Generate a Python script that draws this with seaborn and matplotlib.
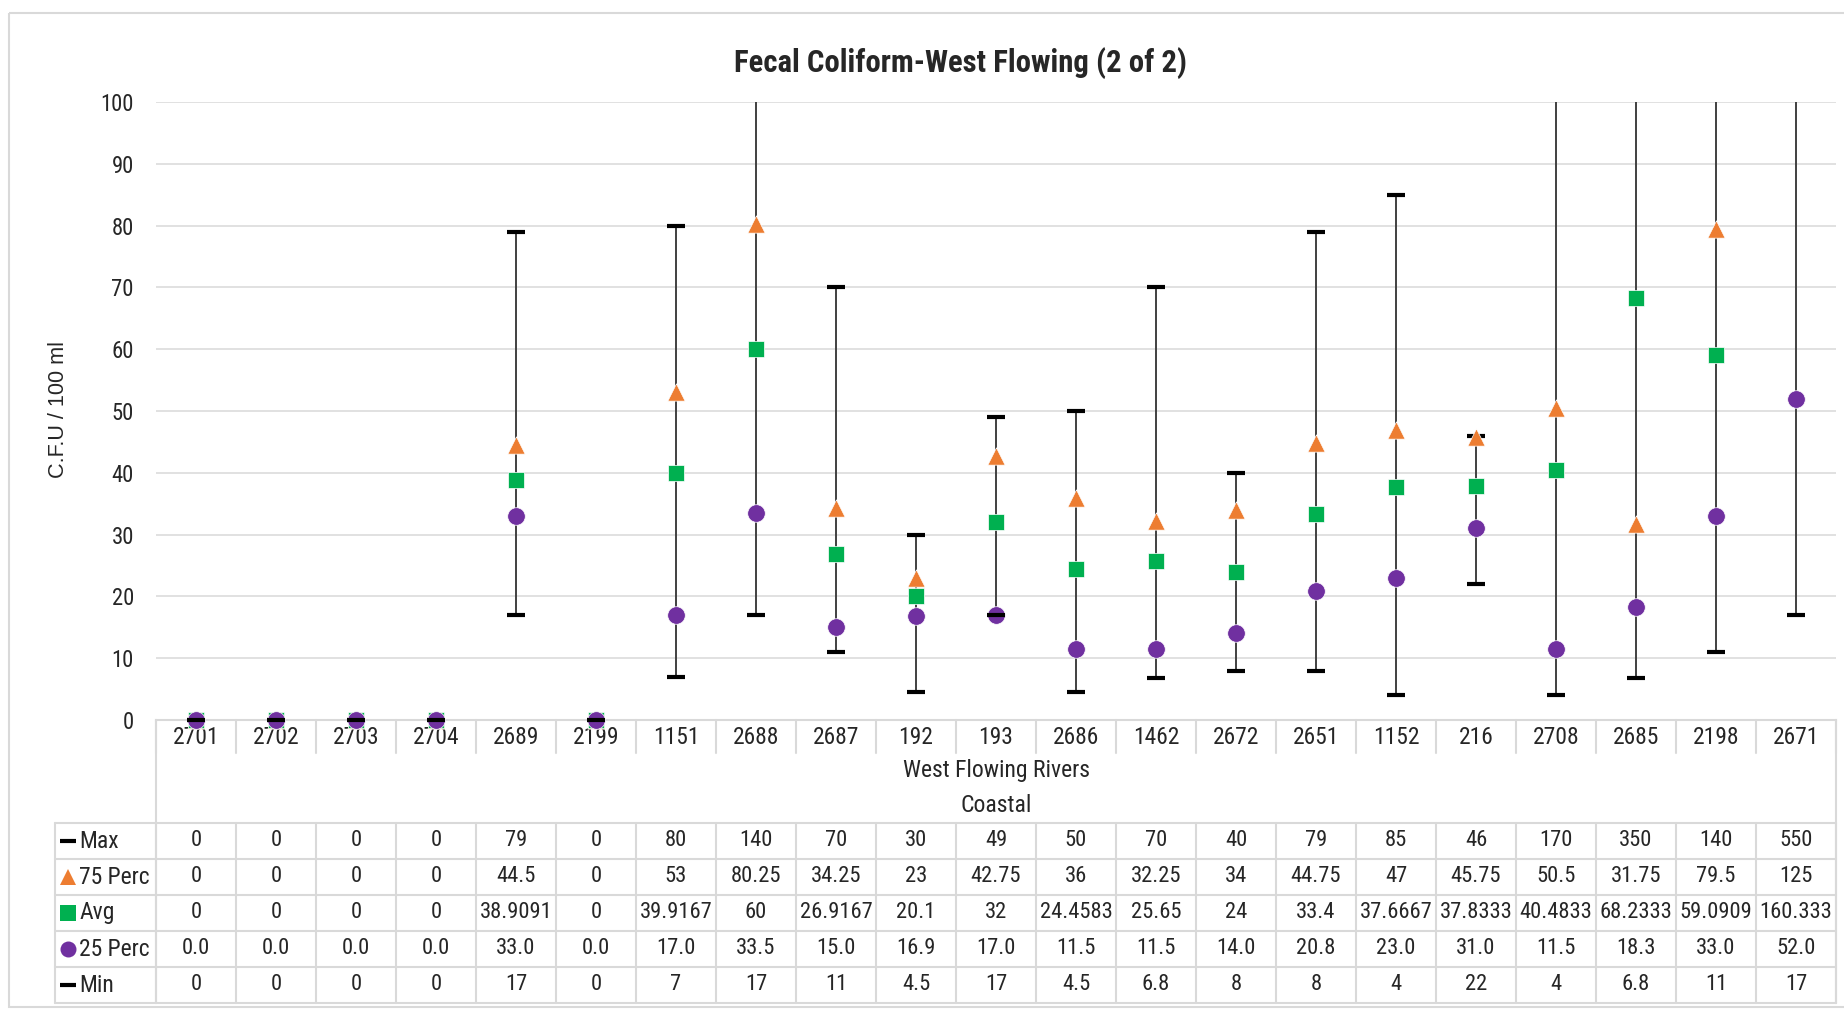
import numpy as np
import seaborn as sns
import matplotlib
matplotlib.use("Agg")
import matplotlib.pyplot as plt
from matplotlib import font_manager
from matplotlib.patches import Rectangle

# ---- data --------------------------------------------------------------
sites = ["2701", "2702", "2703", "2704", "2689", "2199", "1151", "2688", "2687", "192", "193",
         "2686", "1462", "2672", "2651", "1152", "216", "2708", "2685", "2198", "2671"]
max_v = [0, 0, 0, 0, 79, 0, 80, 140, 70, 30, 49, 50, 70, 40, 79, 85, 46, 170, 350, 140, 550]
p75 = [0, 0, 0, 0, 44.5, 0, 53, 80.25, 34.25, 23, 42.75, 36, 32.25, 34, 44.75, 47, 45.75,
       50.5, 31.75, 79.5, 125]
avg = [0, 0, 0, 0, 38.9091, 0, 39.9167, 60, 26.9167, 20.1, 32, 24.4583, 25.65, 24, 33.4,
       37.6667, 37.8333, 40.4833, 68.2333, 59.0909, 160.333]
p25 = [0.0, 0.0, 0.0, 0.0, 33.0, 0.0, 17.0, 33.5, 15.0, 16.9, 17.0, 11.5, 11.5, 14.0, 20.8,
       23.0, 31.0, 11.5, 18.3, 33.0, 52.0]
min_v = [0, 0, 0, 0, 17, 0, 7, 17, 11, 4.5, 17, 4.5, 6.8, 8, 8, 4, 22, 4, 6.8, 11, 17]

ORANGE, GREEN, PURPLE = "#ED7D31", "#00B050", "#7030A0"
GRID = "#d9d9d9"
YMAX = 100

sns.set_theme(style="white")

# ---- fonts: a narrow sans like the original Arial Narrow ---------------
_fonts = {}
for f in font_manager.fontManager.ttflist:
    _fonts.setdefault(f.name, []).append(f)


def has(name, bold=False):
    for f in _fonts.get(name, []):
        w = f.weight if isinstance(f.weight, int) else {"bold": 700}.get(str(f.weight), 400)
        if f.style == "normal" and (w >= 700 if bold else w == 400):
            return True
    return False


NARROW = next((n for n in ["Liberation Sans Narrow", "Arial Narrow", "Roboto Condensed",
                           "Archivo Narrow", "PT Sans Narrow", "Fira Sans Condensed"]
               if has(n)), "Liberation Sans")
BOLDF = next((n for n in ["Liberation Sans Narrow", "Arial Narrow", "Roboto Condensed",
                          "PT Sans Narrow", "Fira Sans Condensed"]
              if has(n) and has(n, bold=True)), "Liberation Sans")
plt.rcParams["font.family"] = [NARROW, "DejaVu Sans"]

W, H = 1844, 1010
fig = plt.figure(figsize=(W / 100, H / 100), dpi=100)
rend = fig.canvas.get_renderer()


def fit(s, target, family, weight="normal"):
    # font size giving the text width (px) seen in the reference
    t = fig.text(0, 0, s, fontsize=10, family=family, fontweight=weight)
    w = t.get_window_extent(rend).width
    t.remove()
    return 10 * target / w


fs_val = fit("37.6667", 72, NARROW)
fs_cat = fit("2708", 46, NARROW)
fs_tick = fit("100", 33, NARROW)
fs_row = fit("75 Perc", 71, NARROW)
fs_grp = fit("West Flowing Rivers", 186, NARROW)
fs_title = fit("Fecal Coliform-West Flowing (2 of 2)", 452, BOLDF, "bold")
fs_ylab = fit("C.F.U / 100 ml", 137, "Liberation Sans")

# overlay in pixel coordinates for the frame and the data table
ov = fig.add_axes([0, 0, 1, 1], zorder=0)
ov.set_xlim(0, W)
ov.set_ylim(H, 0)
ov.axis("off")

# plot area
x0, x1, y0, y1 = 156, 1836, 720, 102
ax = fig.add_axes([x0 / W, 1 - y0 / H, (x1 - x0) / W, (y0 - y1) / H], zorder=2)
ax.set_facecolor("none")
n = len(sites)
xs = np.arange(n)


def shown(v):
    # markers above the axis maximum are hidden, the ones on 0 overhang the axis
    v = np.asarray(v, dtype=float)
    return np.where(v <= YMAX, v, np.nan)


ax.vlines(xs, min_v, max_v, color="#404040", lw=1.4, zorder=2)
sns.scatterplot(x=xs, y=shown(max_v), marker="_", s=160, color="black", linewidth=3,
                clip_on=False, ax=ax, zorder=3)
sns.scatterplot(x=xs, y=shown(p75), marker="^", s=155, color=ORANGE, edgecolor="white",
                linewidth=0.5, clip_on=False, ax=ax, zorder=4)
sns.scatterplot(x=xs, y=shown(avg), marker="s", s=140, color=GREEN, edgecolor="white",
                linewidth=0.5, clip_on=False, ax=ax, zorder=5)
sns.scatterplot(x=xs, y=shown(p25), marker="o", s=160, color=PURPLE, edgecolor="white",
                linewidth=0.5, clip_on=False, ax=ax, zorder=6)
sns.scatterplot(x=xs, y=shown(min_v), marker="_", s=160, color="black", linewidth=3,
                clip_on=False, ax=ax, zorder=7)

ax.set_xlim(-0.5, n - 0.5)
ax.set_ylim(0, YMAX)
ax.set_yticks(range(0, YMAX + 1, 10))
ax.set_xticks([])
ax.tick_params(axis="y", length=0, pad=16, labelsize=fs_tick)
ax.yaxis.grid(True, color=GRID, lw=1.1)
ax.set_axisbelow(True)
for side in ["top", "right", "left"]:
    ax.spines[side].set_visible(False)
ax.spines["bottom"].set_color(GRID)
ax.spines["bottom"].set_linewidth(1.5)
ax.set_xlabel("")
ax.set_ylabel("")

fig.text(961 / W, 1 - 63 / H, "Fecal Coliform-West Flowing (2 of 2)", ha="center", va="center",
         fontsize=fs_title, fontweight="bold", family=BOLDF)
fig.text(58 / W, 1 - 410 / H, "C.F.U / 100 ml", ha="center", va="center", rotation=90,
         fontsize=fs_ylab, family="Liberation Sans")

# outer frame
ov.add_patch(Rectangle((9, 13), 1850, 994, fill=False, edgecolor=GRID, lw=1.5))

# ---- data table --------------------------------------------------------
cw = (x1 - x0) / n
lc = dict(color=GRID, lw=1.5)
for k in range(n + 1):
    ov.plot([x0 + cw * k] * 2, [720, 753], **lc)
ov.plot([x0, x0], [720, 1003], **lc)
ov.plot([x1, x1], [720, 1003], **lc)
row_y = [823, 859, 895, 931, 967, 1003]
for yy in row_y:
    ov.plot([55, x1], [yy, yy], **lc)
for xx in [55] + [x0 + cw * k for k in range(n + 1)]:
    ov.plot([xx, xx], [823, 1003], **lc)

for k, s in enumerate(sites):
    ov.text(x0 + cw * (k + 0.5), 737, s, ha="center", va="center", fontsize=fs_cat)
ov.text((x0 + x1) / 2, 771, "West Flowing Rivers", ha="center", va="center", fontsize=fs_grp)
ov.text((x0 + x1) / 2, 806, "Coastal", ha="center", va="center", fontsize=fs_grp)

rows = [("Max", max_v, "_", "black", "{:g}"),
        ("75 Perc", p75, "^", ORANGE, "{:g}"),
        ("Avg", avg, "s", GREEN, "{:g}"),
        ("25 Perc", p25, "o", PURPLE, "{:.1f}"),
        ("Min", min_v, "_", "black", "{:g}")]
for r, (name, vals, mk, col, fmt) in enumerate(rows):
    cy = (row_y[r] + row_y[r + 1]) / 2
    if mk == "_":
        ov.plot([68], [cy], marker=mk, color=col, ms=11.5, mew=3)
    else:
        ov.plot([68], [cy], marker=mk, color=col, ms=11.5, mew=0)
    ov.text(79, cy, name, ha="left", va="center", fontsize=fs_row)
    for k, v in enumerate(vals):
        ov.text(x0 + cw * (k + 0.5), cy, fmt.format(v), ha="center", va="center", fontsize=fs_val)

fig.savefig("out.png", dpi=100, facecolor="white")
